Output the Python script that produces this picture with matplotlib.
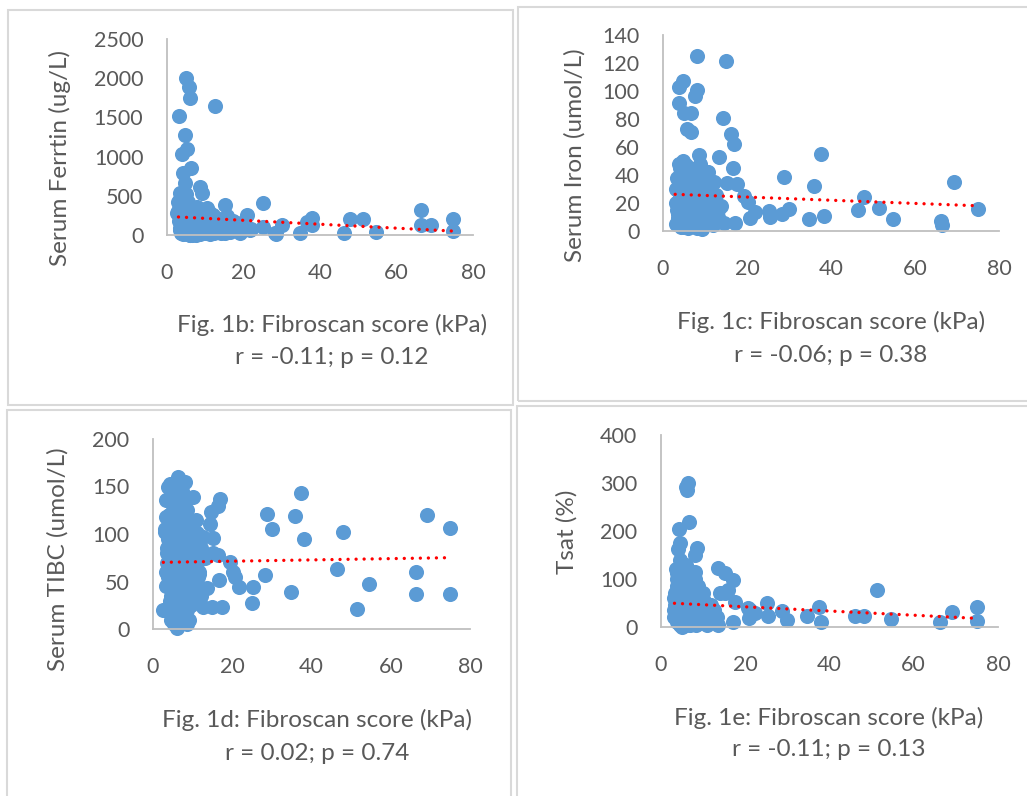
import matplotlib.pyplot as plt
from matplotlib.patches import Rectangle

plt.rcParams['font.family'] = ['Lato', 'DejaVu Sans']

# ---- data ----
# Fig. 1b: serum ferritin
fer_x = [3.1, 5.0, 5.8, 6.0, 12.5, 4.7, 5.2, 3.9, 6.3, 4.3, 4.7, 8.6, 9.1, 3.4, 3.0, 10.4, 15.2, 7.8,
         20.8, 25.0, 18.2, 21.7, 25.2, 28.2, 30.0, 28.5, 34.8, 36.5, 37.8, 38.0, 46.3, 47.8, 51.2, 54.6,
         66.4, 66.4, 69.0, 74.8, 74.8,
         3.0, 3.2, 3.4, 3.6, 3.8, 4.0, 4.2, 4.4, 4.6, 4.8, 5.0, 5.2, 5.4, 5.6, 5.8, 6.0, 6.2, 6.4, 6.6,
         6.8, 7.0, 7.2, 7.4, 7.6, 7.9, 8.2, 8.5, 8.8, 9.1, 9.4, 9.7, 10.0, 10.4, 10.8, 11.2, 11.6, 12.0,
         12.5, 13.0, 13.5, 14.0, 14.5, 15.2, 15.8, 16.5, 17.2, 19.0, 20.0, 22.0, 3.5, 4.5, 5.5, 6.5, 7.5,
         2.5,
         3.3, 3.7, 4.1, 4.5, 4.9, 5.3, 5.7, 6.1, 6.5, 6.9, 7.3, 7.7, 8.1, 8.5, 8.9, 9.3, 9.8, 10.3,
         10.9, 11.5, 12.2, 13.0, 13.8, 14.7, 15.6, 16.6, 17.6, 18.8, 4.0, 5.0, 6.0, 7.0, 8.0, 9.0, 10.0,
         11.0]
fer_y = [1518, 2000, 1890, 1750, 1645, 1275, 1100, 1030, 850, 787, 660, 616, 531, 531, 425, 340, 383, 360,
         255, 412, 150, 64, 106, 21, 128, 10, 21, 170, 213, 130, 25, 205, 205, 40,
         320, 130, 130, 205, 50,
         300, 180, 60, 20, 240, 120, 350, 30, 200, 80, 280, 10, 150, 420, 60, 230, 100, 320, 20,
         180, 50, 260, 130, 10, 300, 80, 200, 20, 140, 280, 50, 200, 250, 90, 10, 180, 260,
         60, 106, 200, 30, 150, 20, 240, 90, 180, 30, 120, 80, 460, 500, 380, 0, 5,
         277,
         90, 260, 15, 150, 330, 60, 200, 5, 270, 110, 40, 230, 160, 10, 250, 90, 150, 30,
         220, 120, 20, 170, 60, 110, 140, 40, 90, 60, 450, 520, 5, 350, 330, 20, 120,
         290]

# Fig. 1c: serum iron
fe_x = [8.1, 15.0, 3.9, 4.8, 8.2, 7.7, 3.8, 5.0, 6.7, 5.7, 6.6, 14.2, 16.1, 17.0, 8.6, 13.4, 16.7, 37.5,
        28.8, 36.0, 69.2, 47.9, 46.4, 51.5, 54.7, 66.3, 66.5, 75.0, 38.3, 34.8, 25.2, 25.5, 28.3, 30.0,
        20.8, 21.9, 17.1, 9.2, 19.2, 20.3, 15.2, 17.5, 10.5, 4.0, 10.8,
        3.0, 3.2, 3.4, 3.6, 3.8, 4.0, 4.2, 4.4, 4.6, 4.8, 5.0, 5.2, 5.4, 5.6, 5.8, 6.0, 6.3, 6.6, 6.9,
        7.2, 7.5, 7.8, 8.1, 8.4, 8.8, 9.2, 9.6, 10.0, 10.5, 11.0, 11.5, 12.0, 12.5, 13.0, 13.8, 14.5,
        3.3, 4.1, 4.9, 5.7, 6.5, 7.3, 8.0, 9.0, 10.2, 11.8,
        3.1, 3.5, 3.9, 4.3, 4.7, 5.1, 5.5, 5.9, 6.4, 6.8, 7.3, 7.7, 8.3, 8.7, 9.4, 9.9, 10.7, 11.3,
        12.2, 13.2, 3.7, 4.5, 5.3, 6.1, 7.0, 7.9, 8.9]
fe_y = [125, 121.6, 103, 107, 100.7, 96.7, 91.7, 84, 84, 72.6, 70.5, 81, 69.3, 62, 54.3, 53, 45.2, 55,
        38.8, 32, 35.2, 24, 15, 16.4, 8.6, 7.4, 4, 15.5, 10.7, 8.6, 14.3, 9.8, 12.1, 15.5,
        9, 13.8, 6, 1.2, 25, 21, 34.5, 33.6, 42, 48, 42,
        5, 20, 38, 12, 28, 45, 8, 33, 18, 50, 3, 25, 40, 14, 30, 6, 22, 44, 10,
        35, 17, 28, 2, 40, 12, 24, 36, 8, 20, 30, 14, 4, 26, 10, 18, 6,
        15, 30, 10, 38, 25, 5, 45, 32, 16, 22,
        30, 9, 22, 3, 40, 16, 47, 2, 32, 13, 42, 7, 19, 48, 28, 4, 38, 12,
        35, 15, 48, 27, 7, 44, 12, 30, 40]

# Fig. 1d: serum TIBC
tb_x = [4.3, 6.4, 8.1, 8.9, 10.2, 3.2, 16.9, 16.5, 14.6, 14.4, 4.1, 8.2, 3.0, 15.1, 11.0, 12.7, 28.7,
        30.0, 37.4, 35.9, 38.1, 48.0, 69.1, 75.0, 46.4, 66.4, 66.4, 75.0, 54.5, 51.4, 34.8, 28.3, 25.1,
        25.3, 21.7, 20.3, 20.7, 19.4, 16.7, 15.2, 16.5, 12.7, 14.8, 17.3, 13.6, 6.0, 8.5, 2.6,
        3.0, 3.3, 3.6, 3.9, 4.2, 4.5, 4.8, 5.1, 5.4, 5.7, 6.0, 6.3, 6.6, 6.9, 7.2, 7.5, 7.8, 8.1, 8.4,
        8.7, 9.0, 9.4, 9.8, 10.2, 10.6, 11.0, 11.5, 12.0, 3.1, 3.5, 3.9, 4.3, 4.7, 5.1, 5.5, 5.9, 6.3,
        6.7, 7.1, 7.5, 7.9, 8.3, 8.7, 9.1, 9.6, 10.1, 10.7, 11.4, 12.2, 13.0, 3.4, 4.0, 4.6, 5.2, 5.8,
        6.4, 7.0, 7.6, 8.2, 8.8,
        3.2, 3.6, 4.0, 4.4, 4.8, 5.2, 5.6, 6.0, 6.4, 6.8, 7.2, 7.6, 8.0, 8.4, 8.8, 9.2, 9.7, 10.3,
        10.9, 3.8, 4.6, 5.4, 6.2, 7.0, 7.8, 8.6, 9.4, 10.4, 11.6, 4.2, 5.0, 5.8, 6.6, 7.4, 8.2, 9.0,
        5.3, 6.1, 6.9, 7.7]
tb_y = [153, 160, 155, 137.6, 138.6, 135.8, 136.8, 129.5, 123.5, 111, 120, 118, 102.4, 95.4, 100.7, 97,
        121, 105, 143.5, 119, 94.4, 101.8, 120.3, 106, 63, 59.7, 36.5, 36.5, 47.7, 21, 39.3, 56.8, 27.7,
        44.5, 44.5, 60.3, 55, 70.8, 51.6, 79.6, 78, 22.8, 22.8, 22.8, 42.8, 0.7, 9.5, 20,
        20, 45, 70, 95, 120, 35, 60, 85, 110, 130, 15, 40, 65, 90, 115, 30, 55, 80, 105,
        125, 10, 50, 75, 100, 45, 70, 60, 85, 105, 80, 55, 30, 10, 125, 100, 75, 50,
        25, 120, 95, 70, 45, 20, 90, 65, 40, 80, 55, 35, 75, 118, 88, 140, 48, 8,
        98, 128, 62, 32, 112,
        60, 85, 110, 25, 140, 5, 90, 145, 35, 100, 8, 130, 15, 60, 40, 115, 25, 90,
        115, 150, 10, 45, 140, 100, 135, 5, 60, 35, 58, 85, 100, 15, 30, 145, 88, 30,
        128, 75, 50, 22]

# Fig. 1e: transferrin saturation
ts_x = [5.9, 6.5, 6.1, 6.7, 4.3, 4.4, 4.0, 8.6, 8.1, 3.9, 8.1, 13.5, 15.2, 17.2, 14.0, 15.2, 51.2, 25.1,
        25.3, 28.7, 29.9, 34.6, 37.4, 38.0, 46.1, 48.1, 54.6, 66.3, 69.0, 75.0, 75.0, 20.7, 21.0, 22.3,
        17.6, 17.2, 12.4, 9.3, 4.9, 16.0, 3.3, 8.9, 21.1,
        3.0, 3.3, 3.6, 3.9, 4.2, 4.5, 4.8, 5.1, 5.4, 5.7, 6.0, 6.3, 6.6, 6.9, 7.2, 7.5, 7.8, 8.1, 8.5,
        8.9, 9.3, 9.8, 10.3, 10.8, 11.4, 12.0, 12.7, 13.4, 3.2, 3.8, 4.4, 5.0, 5.6, 6.2, 6.8, 7.4, 8.0,
        8.7, 9.5, 10.5, 11.5, 4.6, 5.3, 6.0,
        3.1, 3.5, 3.9, 4.3, 4.7, 5.1, 5.5, 5.9, 6.3, 6.7, 7.1, 7.5, 7.9, 8.4, 8.9, 9.6, 10.2, 11.0,
        11.8, 12.6, 13.5, 3.6, 4.8, 5.8, 6.8, 7.8, 9.0, 10.0]
ts_y = [291, 299, 285, 218, 203.5, 174, 162, 164, 150, 113, 115, 123.6, 112, 98, 71.5, 71.5, 77, 50.6,
        23, 33, 14.6, 23, 41, 11, 23.6, 23.6, 17.4, 11, 30.6, 42.4, 13.2, 39, 18, 28.5,
        52.7, 11, 14.6, 7.7, 0.6, 77, 70, 70, 35,
        20, 45, 70, 10, 35, 90, 55, 15, 80, 40, 5, 60, 25, 95, 50, 15, 70, 30, 55,
        10, 40, 65, 20, 45, 30, 10, 35, 20, 60, 100, 5, 125, 45, 75, 15, 85, 100,
        25, 60, 40, 15, 140, 110, 130,
        35, 60, 85, 25, 5, 65, 100, 30, 110, 45, 80, 10, 45, 5, 85, 25, 55, 5,
        45, 20, 5, 120, 90, 65, 5, 60, 20, 70]

# linear trend lines (ends)
trend_x = [[3.0, 74.5], [2.9, 75.0], [2.6, 73.7], [3.2, 75.0]]
trend_y = [[230, 51], [26.2, 18.0], [70.2, 75.0], [49.4, 18.0]]

ylabels = ['Serum Ferrtin (ug/L)', 'Serum Iron (umol/L)', 'Serum TIBC (umol/L)', 'Tsat (%)']
xlabels = ['Fig. 1b: Fibroscan score (kPa)', 'Fig. 1c: Fibroscan score (kPa)',
           'Fig. 1d: Fibroscan score (kPa)', 'Fig. 1e: Fibroscan score (kPa)']
stats = ['r = -0.11; p = 0.12', 'r = -0.06; p = 0.38', 'r = 0.02; p = 0.74', 'r = -0.11; p = 0.13']
ymaxs = [2500, 140, 200, 400]
ysteps = [500, 20, 50, 100]
xs = [fer_x, fe_x, tb_x, ts_x]
ys = [fer_y, fe_y, tb_y, ts_y]

# ---- layout (pixels) ----
W, H = 1027, 796
boxes = [(8, 10, 513, 405), (518, 7, 1040, 401), (7, 410, 511, 810), (517, 406, 1040, 810)]
axboxes = [(167, 39, 473, 235), (663, 35, 999, 231), (153, 439, 470, 629), (661, 435, 998, 627)]
ylab_pos = [(60, 158), (575, 155), (58, 559), (567, 532)]
xlab_pos = [(332, 325, 358), (831, 322, 355), (317, 720, 753), (829, 718, 750)]

grey = '#595959'
blue = '#5B9BD5'

fig = plt.figure(figsize=(W / 100, H / 100), dpi=100)

for i in range(4):
    x0, y0, x1, y1 = boxes[i]
    fig.patches.append(Rectangle((x0 / W, 1 - y1 / H), (x1 - x0) / W, (y1 - y0) / H,
                                 transform=fig.transFigure, fill=False,
                                 edgecolor='#D9D9D9', linewidth=1.5))

    l, t, r, b = axboxes[i]
    ax = fig.add_axes([l / W, 1 - b / H, (r - l) / W, (b - t) / H])
    ax.scatter(xs[i], ys[i], s=118, color=blue, linewidths=0, zorder=2, clip_on=False)
    ax.plot(trend_x[i], trend_y[i], color='red', linewidth=2.4,
            linestyle=(0, (0.01, 2.4)), dash_capstyle='round', zorder=3)

    ax.set_xlim(0, 80)
    ax.set_ylim(0, ymaxs[i])
    ax.set_xticks(range(0, 81, 20))
    ax.set_yticks(range(0, ymaxs[i] + 1, ysteps[i]))
    for side in ['top', 'right']:
        ax.spines[side].set_visible(False)
    for side in ['left', 'bottom']:
        ax.spines[side].set_color('#BFBFBF')
        ax.spines[side].set_linewidth(1.3)
    ax.tick_params(length=0, labelsize=15.5, colors=grey)
    ax.tick_params(axis='y', pad=17)
    ax.tick_params(axis='x', pad=20)

    yx, yy = ylab_pos[i]
    fig.text(yx / W, 1 - yy / H, ylabels[i], rotation=90, ha='center', va='center',
             fontsize=17.5, color=grey)
    cx, ly, sy = xlab_pos[i]
    fig.text(cx / W, 1 - ly / H, xlabels[i], ha='center', va='center', fontsize=17.5, color=grey)
    fig.text(cx / W, 1 - sy / H, stats[i], ha='center', va='center', fontsize=17.5, color=grey)

fig.savefig('out.png', dpi=100)
